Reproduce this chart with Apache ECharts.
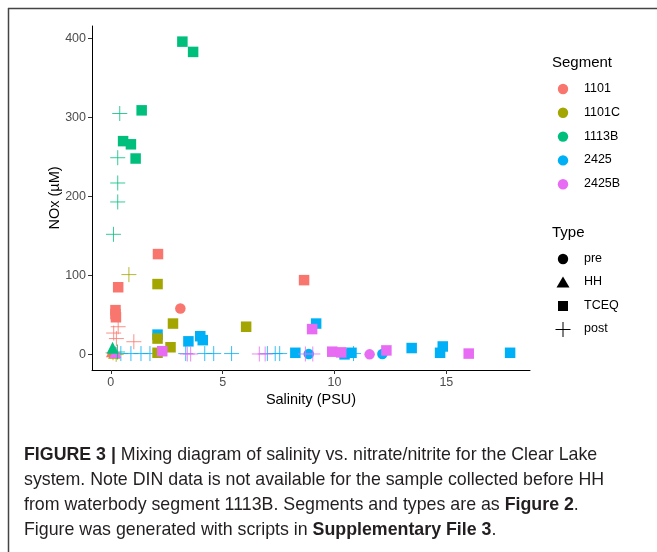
<!DOCTYPE html>
<html>
<head>
<meta charset="utf-8">
<script src="https://cdn.jsdelivr.net/npm/echarts@6/dist/echarts.min.js"></script>
<style>
html,body{margin:0;padding:0;background:#fff;}
#chart{width:657px;height:552px;}
</style>
</head>
<body>
<div id="chart"></div>
<script>
// ---------- data ----------
const segments = ['1101', '1101C', '1113B', '2425', '2425B'];
const types = ['pre', 'HH', 'TCEQ', 'post'];
const segColors = ['#F8766D', '#A3A500', '#00BF7D', '#00B0F6', '#E76BF3'];
const xTicks = [0, 5, 10, 15];
const yTicks = [0, 100, 200, 300, 400];

// [salinity (PSU), NOx (uM)]
const s1101_pre  = [[3.11, 58]];
const s1101_HH   = [[0.05, 4]];
const s1101_TCEQ = [[2.11, 127], [0.33, 85], [0.21, 56], [0.21, 51], [0.23, 47], [8.64, 94]];
const s1101_post = [[0.33, 35], [0.13, 27], [1.03, 16], [0.25, 20], [0.1, 2]];

const s1101C_HH   = [[0.15, 2]];
const s1101C_TCEQ = [[2.09, 89], [2.78, 39], [6.05, 35], [2.09, 20], [2.67, 9], [2.09, 2]];
const s1101C_post = [[0.81, 101], [0.24, 0]];

const s1113B_HH   = [[0.08, 8.5]];
const s1113B_TCEQ = [[3.20, 396], [3.68, 383], [1.38, 309], [0.55, 270], [0.90, 266], [1.11, 248]];
const s1113B_post = [[0.40, 305], [0.31, 249], [0.31, 217], [0.31, 193], [0.12, 152], [0.3, 3]];

const s2425_pre  = [[8.85, 0.5], [12.14, 0.5]];
const s2425_TCEQ = [[2.09, 25], [3.47, 16.5], [4.0, 23], [4.11, 18], [9.18, 39], [8.25, 2],
                    [10.76, 2], [10.45, 0], [13.45, 8], [14.84, 10], [14.72, 2], [17.85, 2]];
const s2425_post = [[0.45, 1], [0.9, 1], [1.35, 1], [1.75, 1], [3.35, 1], [4.2, 1], [4.6, 1],
                    [5.4, 1], [7.0, 1], [7.35, 1], [7.55, 1], [10.85, 1]];

const s2425B_pre  = [[11.57, 0]];
const s2425B_HH   = [[0.2, 3]];
const s2425B_TCEQ = [[2.3, 4], [9.0, 32], [9.9, 3.4], [10.3, 2.5], [12.32, 5], [16.0, 1]];
const s2425B_post = [[3.42, 0.5], [3.57, 0.5], [6.64, 0.5], [6.9, 0.5], [8.7, 0.5], [9.03, 0.5]];

// ---------- styling ----------
const FONT = '"Liberation Sans", Arial, sans-serif';
const PLUS = 'path://M0,7L14,7M7,0L7,14';
const typeSymbol = {pre: 'circle', HH: 'triangle', TCEQ: 'rect', post: PLUS};
const typeSize = {pre: 10.5, HH: 12, TCEQ: 10.5, post: 15};

function mk(seg, type, data) {
  const color = segColors[segments.indexOf(seg)];
  const isPlus = type === 'post';
  return {
    type: 'scatter',
    name: seg + ' ' + type,
    data: data,
    symbol: typeSymbol[type],
    symbolSize: typeSize[type],
    itemStyle: isPlus
      ? {color: 'rgba(0,0,0,0)', borderColor: color, borderWidth: 1, opacity: 0.8}
      : {color: color, opacity: 1},
    emphasis: {disabled: true},
    silent: true
  };
}

const series = [
  mk('2425', 'post', s2425_post),
  mk('2425', 'pre', s2425_pre),
  mk('2425', 'TCEQ', s2425_TCEQ),
  mk('1101', 'post', s1101_post),
  mk('1101', 'pre', s1101_pre),
  mk('1101', 'HH', s1101_HH),
  mk('1101', 'TCEQ', s1101_TCEQ),
  mk('1101C', 'post', s1101C_post),
  mk('1101C', 'HH', s1101C_HH),
  mk('1101C', 'TCEQ', s1101C_TCEQ),
  mk('2425B', 'post', s2425B_post),
  mk('2425B', 'pre', s2425B_pre),
  mk('2425B', 'HH', s2425B_HH),
  mk('2425B', 'TCEQ', s2425B_TCEQ),
  mk('1113B', 'post', s1113B_post),
  mk('1113B', 'HH', s1113B_HH),
  mk('1113B', 'TCEQ', s1113B_TCEQ)
];

// axis ranges (ggplot-like 5% expansion around data)
function range(arrs, idx) {
  let lo = Infinity, hi = -Infinity;
  arrs.forEach(a => a.forEach(p => { lo = Math.min(lo, p[idx]); hi = Math.max(hi, p[idx]); }));
  const pad = (hi - lo) * 0.05;
  return [lo - pad, hi + pad];
}
const allData = series.map(s => s.data);
const xr = range(allData, 0);
const yr = range(allData, 1);

// ---------- legend (graphic) ----------
const graphic = [];
graphic.push({type: 'line', shape: {x1: 8, y1: 8.5, x2: 657, y2: 8.5}, style: {stroke: '#444', lineWidth: 1.5}});
graphic.push({type: 'line', shape: {x1: 8.5, y1: 8, x2: 8.5, y2: 552}, style: {stroke: '#444', lineWidth: 1.5}});
graphic.push({type: 'text', left: 552, top: 55, style: {text: 'Segment', font: '15px ' + FONT, fill: '#000'}});
segments.forEach((s, i) => {
  const y = 89 + i * 23.8;
  graphic.push({type: 'circle', shape: {cx: 563, cy: y, r: 5.2}, style: {fill: segColors[i]}});
  graphic.push({type: 'text', left: 584, top: y - 7, style: {text: s, font: '12.5px ' + FONT, fill: '#000'}});
});
graphic.push({type: 'text', left: 552, top: 225, style: {text: 'Type', font: '15px ' + FONT, fill: '#000'}});
types.forEach((t, i) => {
  const y = 259 + i * 23.5;
  if (t === 'pre') graphic.push({type: 'circle', shape: {cx: 563, cy: y, r: 5.2}, style: {fill: '#000'}});
  if (t === 'HH') graphic.push({type: 'polygon', shape: {points: [[563, y - 6], [569.5, y + 5], [556.5, y + 5]]}, style: {fill: '#000'}});
  if (t === 'TCEQ') graphic.push({type: 'rect', shape: {x: 558, y: y - 5, width: 10, height: 10}, style: {fill: '#000'}});
  if (t === 'post') {
    graphic.push({type: 'line', shape: {x1: 555.5, y1: y, x2: 570.5, y2: y}, style: {stroke: '#000', lineWidth: 1}});
    graphic.push({type: 'line', shape: {x1: 563, y1: y - 7.5, x2: 563, y2: y + 7.5}, style: {stroke: '#000', lineWidth: 1}});
  }
  graphic.push({type: 'text', left: 584, top: y - 7, style: {text: t, font: '12.5px ' + FONT, fill: '#000'}});
});

// caption
const CAPF = '"Liberation Sans", Arial, sans-serif';
graphic.push({
  type: 'text', left: 24, top: 443,
  style: {
    text: '{b|FIGURE 3 |} Mixing diagram of salinity vs. nitrate/nitrite for the Clear Lake\n' +
          'system. Note DIN data is not available for the sample collected before HH\n' +
          'from waterbody segment 1113B. Segments and types are as {b|Figure 2}.\n' +
          'Figure was generated with scripts in {b|Supplementary File 3}.',
    font: '17.8px ' + CAPF, fill: '#231F20', lineHeight: 25,
    rich: {b: {fontWeight: 'bold', fontSize: 17.8, fontFamily: CAPF, fill: '#231F20', lineHeight: 25}}
  }
});

const axisCommon = {
  type: 'value',
  axisLine: {show: true, onZero: false, lineStyle: {color: '#000', width: 1}},
  splitLine: {show: false},
  nameMoveOverlap: false,
  nameTextStyle: {fontFamily: FONT, fontSize: 14.5, color: '#000'}
};

const option = {
  animation: false,
  backgroundColor: '#fff',
  grid: {left: 92, right: 127, top: 26, bottom: 182},
  xAxis: Object.assign({}, axisCommon, {
    min: xr[0], max: xr[1],
    name: 'Salinity (PSU)', nameLocation: 'middle', nameGap: 22,
    axisTick: {show: true, length: 4, lineStyle: {color: '#333'}, customValues: xTicks},
    axisLabel: {customValues: xTicks, margin: 6, fontFamily: FONT, fontSize: 12.5, color: '#4D4D4D'}
  }),
  yAxis: Object.assign({}, axisCommon, {
    min: yr[0], max: yr[1],
    name: 'NOx (µM)', nameLocation: 'middle', nameGap: 30, nameRotate: 90,
    axisTick: {show: true, length: 4, lineStyle: {color: '#333'}, customValues: yTicks},
    axisLabel: {customValues: yTicks, margin: 6, fontFamily: FONT, fontSize: 12.5, color: '#4D4D4D'}
  }),
  series: series,
  graphic: graphic
};

const chart = echarts.init(document.getElementById('chart'), null, {renderer: 'canvas'});
chart.setOption(option);
</script>
</body>
</html>
